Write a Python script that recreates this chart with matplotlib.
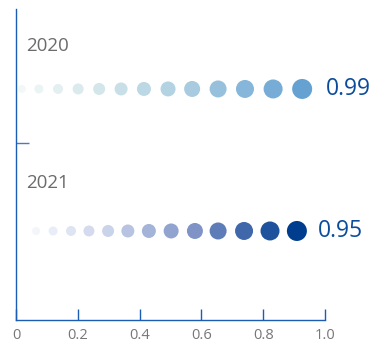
import matplotlib
matplotlib.use('Agg')
from matplotlib import pyplot as plt
from matplotlib.colors import LinearSegmentedColormap
import numpy as np

plt.rcParams['font.family'] = ['Open Sans', 'DejaVu Sans']

years = ['2020', '2021']
scores = [0.99, 0.95]
dots_2020 = [0.019, 0.074, 0.136, 0.201, 0.269, 0.340, 0.414, 0.492, 0.570, 0.654, 0.741, 0.832, 0.926]
dots_2021 = [0.065, 0.120, 0.178, 0.236, 0.298, 0.362, 0.430, 0.502, 0.579, 0.654, 0.738, 0.822, 0.909]
x_ticks = [0, 0.2, 0.4, 0.6, 0.8, 1.0]
x_tick_labels = ['0', '0.2', '0.4', '0.6', '0.8', '1.0']

axis_blue = '#1a5db3'
label_blue = '#0b4b9c'
cmaps = [
    LinearSegmentedColormap.from_list('c2020', ['#f2f8f7', '#d3e6ea', '#a8cbe0', '#65a2d2']),
    LinearSegmentedColormap.from_list('c2021', ['#f4f5fb', '#c9d3ea', '#7f93c6', '#003d8e']),
]
year_offsets = [-0.305, -0.335]
score_gaps = [0.077, 0.068]

fig = plt.figure(figsize=(3.85, 3.46), dpi=100)
ax = fig.add_axes([0.0416, 0.0751, 0.8026, 0.8989])

for row, (year, score, dots) in enumerate(zip(years, scores, [dots_2020, dots_2021])):
    n = len(dots)
    t = np.linspace(0, 1, n)
    diam = np.linspace(8, 20, n)  # pixels
    sizes = (diam * 72 / 100) ** 2
    ax.scatter(dots, [row] * n, s=sizes, c=cmaps[row](t), edgecolors='none', zorder=3)
    ax.text(0.032, row + year_offsets[row], year, fontsize=13.5, color='#6b6b6b',
            va='center', ha='left')
    ax.text(dots[-1] + score_gaps[row], row, f'{score:.2f}', fontsize=16.5,
            color=label_blue, va='center', ha='left')

ax.set_xlim(0, 1)
ax.set_ylim(1.627, -0.563)
ax.set_xticks(x_ticks)
ax.set_xticklabels(x_tick_labels)
ax.set_yticks([0.38])
ax.set_yticklabels([''])

for side in ['top', 'right']:
    ax.spines[side].set_visible(False)
for side in ['left', 'bottom']:
    ax.spines[side].set_color(axis_blue)
    ax.spines[side].set_linewidth(1.0)

ax.tick_params(axis='x', direction='in', length=8, width=1.0, color=axis_blue,
               labelcolor='#777777', labelsize=10.5, pad=6)
ax.tick_params(axis='y', direction='in', length=9, width=1.0, color='#4a7bbf')

fig.savefig('out.png', dpi=100)
